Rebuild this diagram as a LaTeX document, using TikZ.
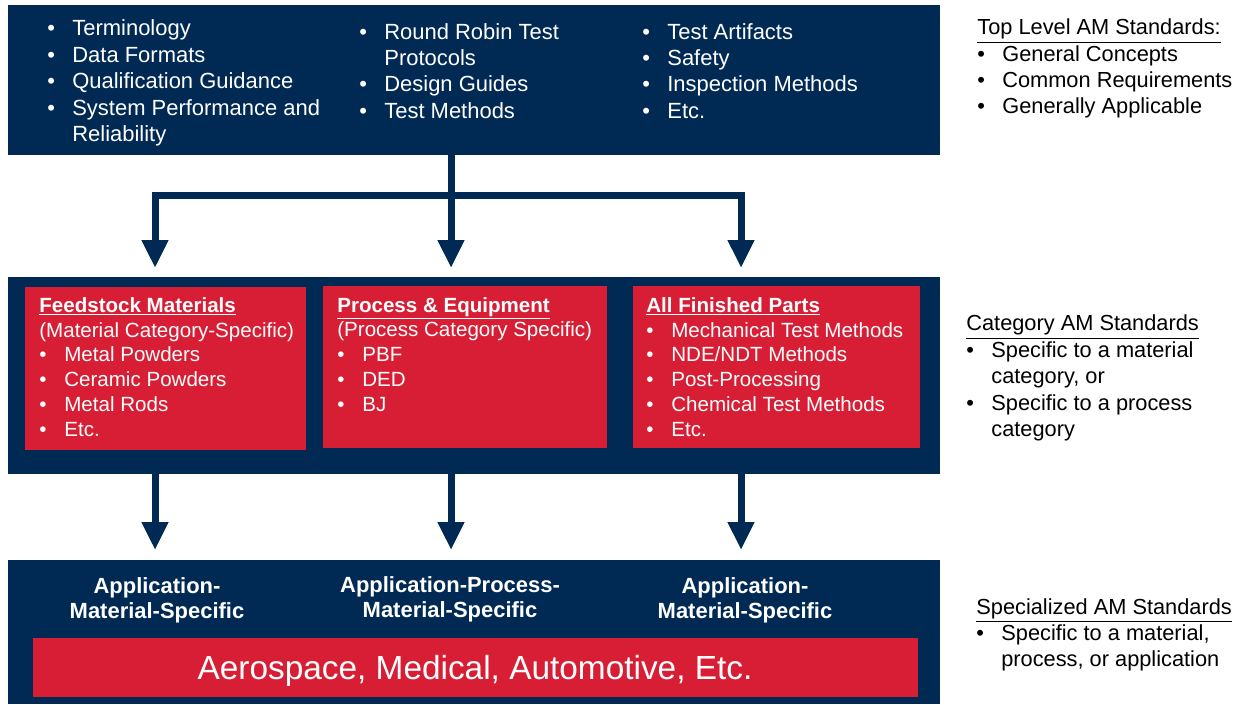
\documentclass[tikz,border=0pt]{standalone}
\usepackage{fontspec}
\setmainfont{Liberation Sans}
\usetikzlibrary{arrows.meta}
\definecolor{navy}{RGB}{0,42,84}
\definecolor{amred}{RGB}{216,30,52}
\newcommand{\bul}{\makebox[0.5cm][l]{\textbullet}}
\newcommand{\hang}{\hspace*{0.5cm}}
\newcommand{\fsz}[2]{\fontsize{#1}{#2}\selectfont}
\tikzset{
  panel/.style={fill=navy, inner sep=0pt, outer sep=0pt, anchor=north west},
  redbox/.style={fill=amred, inner sep=0pt, outer sep=0pt, anchor=north west},
  lst/.style={anchor=base west, align=left, inner sep=0pt, text=white, font=\fsz{12.5pt}{15pt}},
  redlst/.style={lst, font=\fsz{11.7pt}{14.2pt}},
  note/.style={lst, text=black, font=\fsz{12.4pt}{14.8pt}},
  lab/.style={anchor=base, align=center, inner sep=0pt, text=white, font=\bfseries\fsz{12.5pt}{14.2pt}},
  flow/.style={navy, line width=0.14cm, -{Triangle[width=0.5cm,length=0.56cm]}},
}
\begin{document}
\begin{tikzpicture}[x=0.02cm, y=-0.02cm]
  \useasboundingbox (0,0) rectangle (1246,704);
  \node[panel, minimum width=18.64cm, minimum height=3cm] (top) at (8,5) {};
  \node[panel, minimum width=18.64cm, minimum height=3.94cm] (mid) at (8,277) {};
  \node[panel, minimum width=18.64cm, minimum height=2.88cm] (bot) at (8,560) {};
  \node[redbox, minimum width=5.62cm, minimum height=3.26cm] (feed) at (25,287) {};
  \node[redbox, minimum width=5.68cm, minimum height=3.24cm] (proc) at (323,286) {};
  \node[redbox, minimum width=5.74cm, minimum height=3.24cm] (parts) at (633,286) {};
  \node[redbox, minimum width=17.7cm, minimum height=1.18cm] (apps) at (33,638) {};
  % top level (base = last line)
  \node[lst] (gen1) at (47,141.4) {\bul Terminology\\ \bul Data Formats\\ \bul Qualification Guidance\\ \bul System Performance and\\ \hang Reliability};
  \node[lst] (gen2) at (359,118.1) {\bul Round Robin Test\\ \hang Protocols\\ \bul Design Guides\\ \bul Test Methods};
  \node[lst] (gen3) at (642,118.1) {\bul Test Artifacts\\ \bul Safety\\ \bul Inspection Methods\\ \bul Etc.};
  % category
  \node[redlst] (feedtxt) at (39,436.8) {\textbf{\underline{Feedstock Materials}}\\ (Material Category-Specific)\\ \bul Metal Powders\\ \bul Ceramic Powders\\ \bul Metal Rods\\ \bul Etc.};
  \node[redlst] (proctxt) at (337,411.8) {\textbf{\underline{Process \& Equipment}}\\ (Process Category Specific)\\ \bul PBF\\ \bul DED\\ \bul BJ};
  \node[redlst] (partstxt) at (646,436.8) {\textbf{\underline{All Finished Parts}}\\ \bul Mechanical Test Methods\\ \bul NDE/NDT Methods\\ \bul Post-Processing\\ \bul Chemical Test Methods\\ \bul Etc.};
  % specialized
  \node[lab] (appmat1) at (157,618) {Application-\\Material-Specific};
  \node[lab] (appproc) at (450,617) {Application-Process-\\Material-Specific};
  \node[lab] (appmat2) at (745,618) {Application-\\Material-Specific};
  \node[anchor=base, inner sep=0pt, text=white, font=\fsz{19pt}{22pt}] (appstxt) at (475,679) {Aerospace, Medical, Automotive, Etc.};
  % side notes
  \node[note] (toplvl) at (977,113) {\underline{Top Level AM Standards:}\\ \bul General Concepts\\ \bul Common Requirements\\ \bul Generally Applicable};
  \node[note, font=\fsz{12.4pt}{15pt}] (catlvl) at (966,436.4) {\underline{Category AM Standards}\\ \bul Specific to a material\\ \hang category, or\\ \bul Specific to a process\\ \hang category};
  \node[note] (speclvl) at (976,666) {\underline{Specialized AM Standards}\\ \bul Specific to a material,\\ \hang process, or application};
  % arrows
  \coordinate (split) at (451,195);
  \coordinate (splitL) at (155,195);
  \coordinate (splitR) at (741,195);
  \draw[navy, line width=0.14cm] (top.south -| split) -- (split);
  \draw[flow, shorten >=0.18cm] (split) -- (mid.north -| split);
  \draw[flow, shorten >=0.18cm] (split) -| (mid.north -| splitL);
  \draw[flow, shorten >=0.18cm] (split) -| (mid.north -| splitR);
  \draw[flow, shorten >=0.2cm] (mid.south -| splitL) -- (bot.north -| splitL);
  \draw[flow, shorten >=0.2cm] (mid.south -| split) -- (bot.north -| split);
  \draw[flow, shorten >=0.2cm] (mid.south -| splitR) -- (bot.north -| splitR);
\end{tikzpicture}
\end{document}
